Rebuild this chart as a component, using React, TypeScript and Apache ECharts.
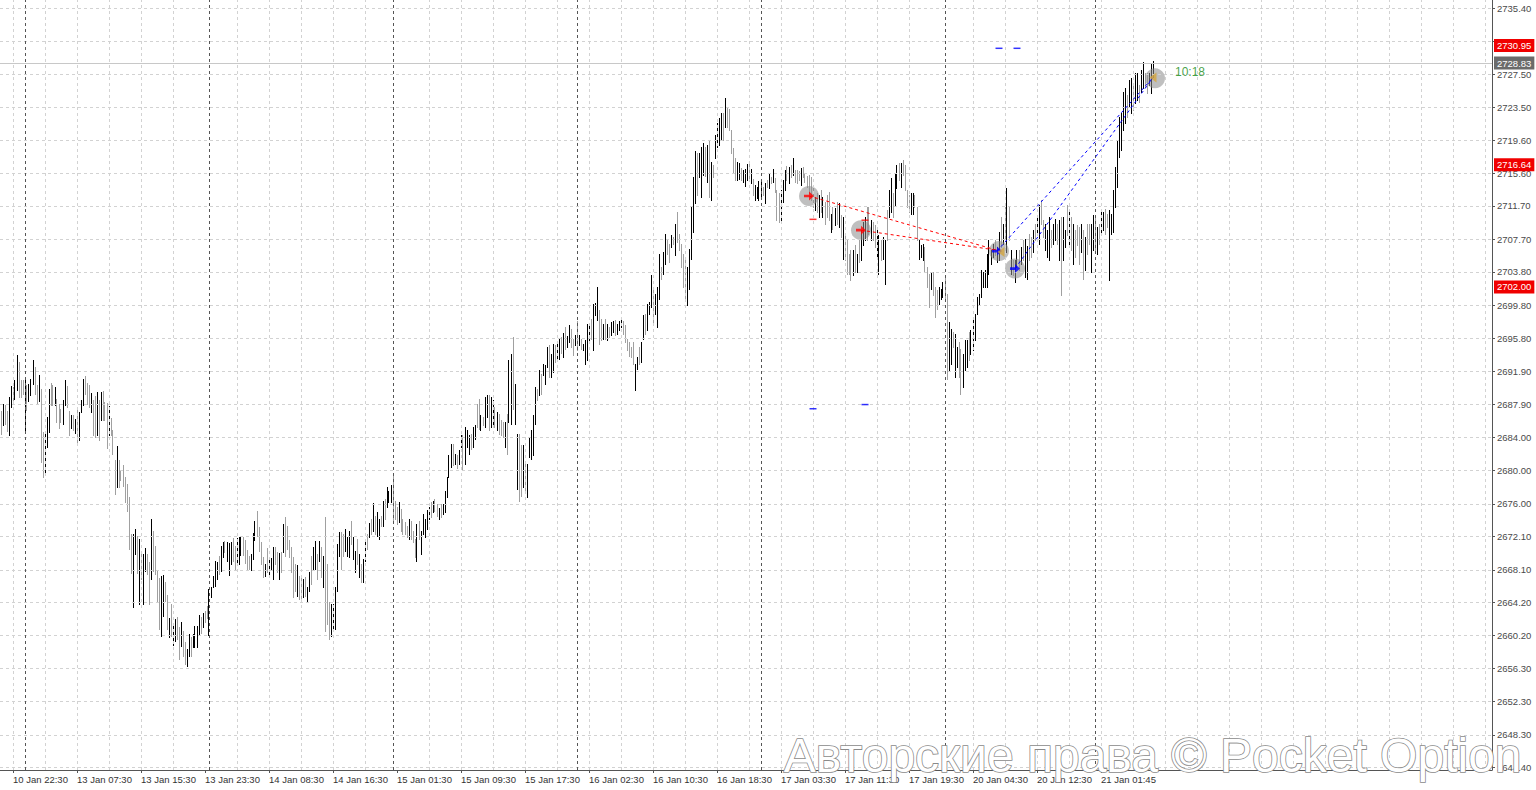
import React, { useEffect, useRef } from 'react';
import * as echarts from 'echarts';

// ---- bar data (M15 high / low, 1 = black bar, 0 = gray bar) ----
const highs: number[] = [
  2687.1,2688.0,2687.9,2687.1,2688.8,2690.1,2690.0,2690.9,2693.8,2693.0,
  2690.9,2690.9,2691.0,2690.2,2690.4,2691.0,2693.2,2692.4,2690.2,2691.5,
  2689.8,2684.6,2684.6,2686.4,2689.8,2690.5,2690.2,2690.0,2688.6,2688.0,
  2687.4,2688.4,2690.8,2690.1,2687.1,2686.6,2686.7,2686.2,2687.2,2687.0,
  2688.5,2691.0,2691.3,2690.5,2690.3,2689.3,2688.5,2688.9,2689.4,2688.4,
  2689.4,2689.5,2688.2,2688.1,2687.7,2686.3,2684.9,2681.2,2682.9,2681.2,
  2680.1,2680.6,2679.2,2678.4,2676.8,2672.4,2672.4,2673.0,2672.2,2671.8,
  2670.0,2670.0,2670.7,2670.0,2669.0,2674.2,2672.8,2671.0,2668.1,2667.1,
  2667.3,2667.5,2666.6,2665.1,2662.3,2664.0,2661.4,2662.2,2662.4,2661.2,
  2661.8,2660.8,2659.4,2658.6,2660.4,2660.0,2660.4,2661.4,2661.4,2662.7,
  2662.4,2662.9,2663.2,2663.8,2665.8,2666.0,2667.4,2669.1,2669.0,2669.8,
  2670.9,2671.4,2671.6,2671.4,2671.3,2671.4,2671.9,2671.0,2671.9,2672.0,
  2672.0,2672.0,2671.7,2670.5,2669.8,2670.0,2672.5,2674.0,2675.2,2673.2,
  2671.4,2669.6,2668.8,2670.7,2669.6,2669.5,2670.8,2670.8,2670.2,2670.1,
  2670.2,2673.6,2674.4,2673.4,2671.7,2670.8,2669.6,2668.8,2668.7,2667.4,
  2667.2,2667.0,2667.2,2666.0,2667.8,2669.8,2670.8,2671.6,2670.0,2671.6,
  2670.8,2669.8,2674.4,2668.8,2664.2,2664.0,2664.0,2666.0,2671.2,2672.6,
  2672.6,2672.4,2673.0,2672.0,2672.8,2674.0,2672.0,2670.4,2671.8,2670.0,
  2668.8,2669.4,2671.7,2672.4,2673.7,2674.2,2676.1,2674.6,2675.0,2674.2,
  2674.5,2676.4,2676.6,2678.0,2677.6,2678.2,2679.5,2676.4,2675.6,2676.2,
  2675.4,2674.2,2673.8,2673.4,2674.2,2673.9,2672.8,2671.8,2673.6,2674.0,
  2672.8,2674.8,2674.2,2675.3,2675.6,2676.2,2676.4,2676.6,2676.0,2675.5,
  2676.0,2676.0,2677.6,2679.2,2681.8,2683.2,2683.2,2682.0,2681.8,2682.4,
  2684.2,2684.2,2685.2,2684.8,2684.2,2684.4,2685.2,2685.4,2688.0,2688.6,
  2686.6,2686.4,2688.8,2689.0,2689.0,2688.8,2688.4,2687.6,2687.0,2686.8,
  2686.0,2685.8,2685.8,2686.8,2693.2,2694.0,2696.0,2690.4,2684.4,2684.4,
  2683.0,2683.0,2680.8,2680.8,2684.0,2684.8,2686.6,2690.0,2689.8,2692.0,
  2691.6,2692.8,2692.6,2694.8,2695.0,2694.0,2695.2,2695.0,2695.1,2695.8,
  2696.0,2696.5,2697.2,2696.1,2697.4,2697.0,2695.8,2696.2,2697.9,2696.2,
  2695.8,2695.2,2695.6,2697.6,2697.6,2698.1,2700.0,2700.1,2702.0,2699.2,
  2698.1,2697.6,2698.1,2697.6,2697.2,2697.8,2697.9,2698.0,2697.6,2697.9,
  2698.0,2697.9,2697.4,2695.8,2695.4,2694.8,2695.4,2692.8,2693.6,2694.8,
  2695.4,2698.6,2698.8,2700.0,2700.2,2703.4,2701.6,2701.2,2702.0,2706.0,
  2704.4,2706.2,2708.4,2707.8,2707.2,2708.2,2708.0,2709.5,2711.0,2708.4,
  2707.2,2706.0,2705.2,2704.4,2706.6,2711.6,2715.2,2718.3,2718.0,2718.0,
  2718.8,2719.2,2718.8,2719.0,2719.6,2717.0,2716.6,2720.2,2721.7,2722.3,
  2722.8,2722.9,2724.6,2723.6,2723.3,2720.8,2718.6,2717.4,2717.0,2716.8,
  2716.3,2716.0,2716.1,2716.7,2716.7,2716.1,2714.9,2714.2,2714.0,2714.7,
  2714.8,2714.0,2714.4,2714.8,2715.5,2715.2,2716.1,2715.0,2713.6,2713.2,
  2713.6,2714.8,2716.0,2716.5,2716.4,2716.6,2717.4,2716.0,2716.0,2715.9,
  2716.2,2716.4,2715.6,2715.3,2715.4,2715.2,2714.0,2712.8,2713.2,2713.0,
  2713.6,2712.8,2712.2,2713.0,2713.4,2710.8,2711.6,2711.4,2712.2,2712.0,
  2710.6,2710.4,2708.4,2707.6,2706.0,2706.4,2706.4,2707.0,2706.0,2707.8,
  2708.8,2709.8,2710.4,2711.6,2711.6,2710.0,2709.8,2709.4,2708.8,2708.2,
  2707.6,2708.0,2707.6,2711.2,2713.6,2715.0,2713.2,2715.6,2716.6,2716.8,
  2716.8,2717.2,2716.6,2713.6,2713.0,2713.2,2713.2,2713.0,2711.6,2707.6,
  2707.0,2707.2,2706.8,2704.4,2703.6,2703.8,2703.8,2702.0,2701.6,2702.0,
  2701.8,2702.6,2703.2,2701.2,2697.8,2697.0,2696.6,2696.4,2694.8,2695.4,
  2694.6,2694.0,2695.6,2695.6,2696.6,2696.8,2698.0,2698.8,2700.8,2701.2,
  2704.0,2703.8,2704.0,2706.0,2707.6,2706.4,2707.2,2707.6,2706.8,2708.6,
  2710.4,2709.6,2711.6,2713.8,2711.6,2706.4,2705.2,2705.2,2706.4,2706.4,
  2706.8,2707.6,2707.7,2706.9,2708.4,2708.0,2708.8,2709.6,2710.4,2711.8,
  2712.4,2710.0,2709.6,2708.8,2710.4,2708.8,2709.6,2710.2,2709.6,2710.0,
  2710.4,2710.4,2708.8,2711.8,2711.2,2710.4,2709.6,2708.8,2709.4,2709.2,
  2709.6,2708.8,2708.0,2709.6,2709.6,2709.6,2710.6,2710.4,2709.2,2709.6,
  2711.2,2711.0,2711.3,2710.8,2711.2,2710.8,2713.6,2716.4,2719.6,2722.4,
  2722.8,2725.4,2725.8,2725.0,2726.8,2727.0,2726.4,2727.6,2727.6,2726.2,
  2728.0,2729.0,2727.7,2727.6,2727.7,2728.8,2729.1,
];

const lows: number[] = [
  2684.4,2685.4,2685.6,2684.7,2684.2,2687.6,2688.0,2688.6,2689.6,2688.8,
  2688.8,2689.2,2684.8,2687.2,2688.3,2689.0,2690.4,2689.2,2688.0,2688.3,
  2681.0,2679.2,2679.4,2682.8,2684.6,2687.8,2687.8,2687.8,2685.8,2685.1,
  2685.8,2685.6,2687.8,2687.6,2684.2,2685.1,2684.8,2684.5,2683.1,2683.6,
  2687.0,2687.9,2689.2,2688.0,2687.6,2687.0,2684.3,2684.0,2684.3,2683.7,
  2686.0,2686.0,2686.0,2682.7,2684.2,2684.2,2682.0,2677.2,2678.0,2678.0,
  2678.8,2678.1,2676.2,2675.1,2670.6,2667.7,2663.6,2670.0,2667.7,2664.0,
  2667.0,2664.0,2668.0,2667.6,2664.0,2667.0,2668.0,2667.6,2664.2,2661.0,
  2660.2,2662.6,2664.4,2661.0,2660.0,2660.2,2659.1,2659.6,2659.8,2657.4,
  2659.0,2657.8,2656.8,2656.6,2657.8,2657.8,2658.8,2658.8,2658.8,2660.4,
  2660.5,2661.2,2661.8,2662.3,2660.3,2664.8,2666.0,2666.2,2667.0,2667.6,
  2668.0,2669.6,2670.2,2669.2,2667.5,2668.8,2669.2,2668.2,2669.0,2668.8,
  2669.9,2669.9,2668.9,2668.2,2668.2,2668.1,2669.4,2671.7,2672.2,2670.4,
  2668.8,2667.2,2667.3,2667.8,2667.2,2668.2,2667.0,2668.8,2667.8,2667.0,
  2667.8,2670.2,2669.8,2670.6,2669.6,2667.8,2664.8,2665.6,2665.0,2664.6,
  2664.6,2664.8,2665.0,2664.2,2665.6,2666.4,2668.2,2668.2,2667.0,2669.2,
  2667.2,2666.0,2660.8,2661.6,2659.8,2660.2,2660.8,2661.0,2665.6,2669.8,
  2668.2,2669.8,2670.4,2669.8,2669.6,2671.2,2669.4,2667.8,2668.8,2667.2,
  2666.6,2666.6,2669.2,2670.6,2672.0,2672.4,2672.8,2672.4,2672.2,2671.8,
  2673.4,2673.4,2674.2,2675.6,2676.2,2676.2,2674.0,2674.2,2673.6,2673.8,
  2672.8,2672.4,2672.4,2672.0,2671.8,2671.8,2671.4,2669.6,2669.2,2671.8,
  2670.0,2672.4,2672.0,2673.0,2674.2,2674.4,2675.0,2675.2,2674.6,2674.2,
  2674.4,2674.8,2675.0,2676.8,2679.2,2680.4,2680.6,2680.8,2680.3,2680.8,
  2682.8,2680.0,2680.8,2682.8,2682.0,2682.6,2682.8,2683.8,2685.2,2685.0,
  2684.8,2685.4,2685.2,2686.4,2684.8,2685.2,2685.2,2685.2,2684.8,2684.4,
  2684.2,2684.0,2682.8,2682.0,2685.8,2685.6,2687.4,2685.6,2677.8,2676.4,
  2677.0,2678.0,2677.4,2676.8,2681.6,2681.4,2681.8,2685.6,2688.4,2689.0,
  2689.2,2691.4,2690.4,2692.4,2691.2,2691.2,2691.8,2693.0,2693.1,2693.4,
  2694.1,2693.6,2694.6,2694.8,2695.4,2694.8,2693.8,2695.0,2694.4,2695.0,
  2694.6,2694.4,2692.8,2693.2,2695.6,2695.8,2694.4,2698.6,2698.0,2695.2,
  2695.6,2695.8,2695.8,2695.6,2696.0,2696.2,2696.6,2696.2,2696.4,2696.8,
  2697.2,2696.4,2695.4,2694.4,2693.7,2693.6,2692.8,2689.6,2692.2,2692.8,
  2693.0,2695.8,2696.4,2696.8,2698.8,2699.6,2697.4,2698.8,2697.2,2700.6,
  2703.0,2703.6,2704.8,2706.0,2705.0,2706.8,2707.2,2705.8,2707.4,2706.4,
  2704.4,2702.0,2700.4,2699.8,2701.8,2705.4,2708.6,2712.0,2713.0,2715.2,
  2712.8,2715.4,2715.3,2714.6,2712.8,2712.4,2715.2,2717.4,2718.8,2719.0,
  2719.6,2719.6,2721.2,2721.2,2720.8,2718.0,2715.8,2714.8,2714.8,2714.9,
  2714.8,2714.6,2714.1,2714.8,2715.0,2714.5,2713.0,2712.4,2712.6,2712.4,
  2712.8,2713.0,2712.0,2714.0,2713.8,2714.4,2714.6,2713.4,2710.0,2709.8,
  2710.0,2712.2,2713.6,2714.8,2714.5,2715.2,2715.4,2714.6,2714.5,2714.8,
  2714.2,2715.2,2714.6,2714.0,2713.2,2712.4,2711.6,2711.2,2711.0,2710.4,
  2711.0,2710.4,2709.6,2710.4,2710.0,2708.6,2709.0,2709.4,2709.6,2709.2,
  2708.0,2705.4,2705.2,2703.6,2703.6,2702.8,2703.4,2703.8,2703.8,2705.0,
  2705.2,2707.0,2707.6,2707.6,2708.4,2707.6,2707.6,2706.8,2705.6,2703.6,
  2705.2,2705.4,2702.4,2707.6,2710.4,2711.0,2710.4,2711.8,2713.8,2714.8,
  2714.0,2715.4,2713.6,2711.6,2711.0,2710.8,2710.8,2711.6,2707.6,2705.4,
  2705.6,2705.2,2703.8,2702.0,2699.6,2701.8,2701.0,2698.4,2699.4,2700.0,
  2700.6,2700.8,2700.6,2691.0,2692.0,2692.8,2694.8,2691.2,2692.4,2691.2,
  2689.2,2690.0,2692.0,2692.4,2693.2,2694.0,2694.4,2695.6,2698.8,2700.0,
  2700.8,2702.0,2702.0,2702.0,2703.6,2704.8,2705.6,2705.8,2705.0,2705.2,
  2706.8,2707.2,2707.6,2706.2,2707.6,2703.6,2703.4,2702.6,2704.4,2704.0,
  2704.8,2705.2,2703.2,2702.9,2705.2,2705.6,2706.2,2707.6,2708.6,2707.2,
  2709.6,2708.0,2706.4,2705.6,2705.2,2706.8,2707.2,2707.6,2707.2,2705.2,
  2701.0,2705.2,2706.8,2708.2,2707.2,2706.4,2704.8,2705.6,2707.0,2704.8,
  2706.2,2703.0,2704.0,2706.0,2707.2,2703.8,2706.4,2706.2,2706.0,2707.2,
  2708.4,2708.8,2708.4,2709.2,2702.8,2708.4,2708.6,2711.6,2714.0,2717.6,
  2718.4,2720.8,2721.6,2722.4,2723.6,2722.8,2723.2,2724.0,2724.4,2724.2,
  2725.4,2725.8,2726.0,2725.2,2726.2,2725.2,2727.2,
];

const ups: number[] = [
  0,1,0,0,1,1,0,1,1,0, 0,0,1,0,1,1,1,0,0,1, 0,0,1,1,1,0,0,1,0,0, 0,1,1,0,0,1,0,1,0,1,
  1,1,0,0,0,1,0,0,1,0, 1,0,0,0,1,0,0,0,1,0, 0,0,0,0,0,0,1,1,0,1, 0,1,1,0,0,1,0,0,0,0,
  1,1,0,0,1,0,1,1,0,0, 1,0,0,1,1,0,1,1,1,1, 0,1,0,0,1,1,1,1,1,0, 1,1,0,1,1,1,0,0,1,1,
  1,0,0,0,0,1,1,1,0,0, 0,0,1,0,1,1,1,0,0,1, 0,1,0,0,0,0,0,0,1,0, 0,1,0,1,1,0,1,1,0,1,
  0,1,0,0,0,1,1,1,1,1, 0,0,1,1,1,0,1,1,0,1, 0,1,1,0,1,0,1,0,1,1, 0,1,0,1,1,1,0,0,0,1,
  0,0,0,0,1,0,0,0,1,0, 1,1,1,1,1,0,1,0,0,1, 0,1,1,1,1,1,0,1,0,1, 1,0,1,1,1,0,1,1,0,0,
  1,0,1,1,0,1,1,0,1,0, 0,0,1,0,1,1,0,1,1,0, 0,1,0,1,1,1,1,1,0,1, 0,1,1,1,0,1,1,0,1,1,
  0,1,0,1,1,0,0,1,0,1, 0,1,1,1,1,0,1,1,1,0, 0,1,0,1,0,1,1,0,1,1, 1,0,0,0,0,0,0,1,1,0,
  1,1,0,1,1,1,0,1,1,1, 0,1,1,0,0,1,0,1,0,0, 0,0,0,1,1,1,1,1,0,1, 1,1,0,1,0,1,0,1,1,1,
  1,0,1,0,0,0,0,0,1,1, 0,1,1,1,0,1,0,1,1,1, 1,0,1,0,1,0,1,0,0,0, 1,1,1,0,1,0,1,0,0,0,
  1,0,0,0,0,0,0,1,0,1, 0,1,0,0,0,1,0,1,0,1, 0,1,0,0,0,0,1,0,1,0, 1,1,1,0,0,1,0,0,1,1,
  0,1,1,0,1,1,0,1,1,0, 1,0,0,0,0,1,1,0,0,1, 1,1,0,0,0,1,0,0,0,1, 1,1,0,0,1,1,0,1,1,0,
  0,1,1,1,0,1,1,1,1,1, 1,1,1,1,1,1,1,0,1,1, 0,1,0,1,0,1,0,1,1,0, 1,0,1,1,0,0,1,0,1,1,
  0,0,1,1,1,0,1,1,0,1, 0,1,1,0,1,0,1,0,0,0, 1,0,1,0,0,1,1,0,1,0, 1,1,0,0,1,1,1,1,1,1,
  1,1,1,0,1,1,0,1,1,0, 1,1,0,0,1,1,1,
];

// ---- axis texts ----
const timeLabels: string[] = [
  '10 Jan 22:30', '13 Jan 07:30', '13 Jan 15:30', '13 Jan 23:30', '14 Jan 08:30', '14 Jan 16:30',
  '15 Jan 01:30', '15 Jan 09:30', '15 Jan 17:30', '16 Jan 02:30', '16 Jan 10:30', '16 Jan 18:30',
  '17 Jan 03:30', '17 Jan 11:30', '17 Jan 19:30', '20 Jan 04:30', '20 Jan 12:30', '21 Jan 01:45',
];
const firstLabelBar = 6;
const barsPerLabel = 32;
const barsPerGrid = 16;
const daySeparators: number[] = [12, 104, 196, 288, 380, 472, 547];
const totalSlots = 746;

const yTickValues: number[] = [
  2735.40, 2731.45, 2727.50, 2723.50, 2719.60, 2715.60, 2711.70, 2707.70, 2703.80, 2699.80, 2695.80,
  2691.90, 2687.90, 2684.00, 2680.00, 2676.00, 2672.10, 2668.10, 2664.20, 2660.20, 2656.30, 2652.30,
  2648.30, 2644.40,
];
const yLabelValues: number[] = yTickValues.filter((v) => v !== 2731.45);

// ---- levels & trades ----
const redLevels: number[] = [2730.95, 2716.64, 2702.0];
const bidPrice = 2728.83;

const sellOpens: number[][] = [[404, 2712.9], [430, 2708.8]];
const sellClose: number[] = [498, 2706.4];
const buyOpens: number[][] = [[498, 2706.3], [507, 2704.2]];
const buyClose: number[] = [576, 2727.1];
const closeMarks: number[][] = [[500, 2706.2], [576, 2727.1]];
const halos: number[][] = [[404, 2712.9], [430, 2708.8], [499, 2706.3], [507, 2704.2], [577, 2727.0]];
const redStops: number[][] = [[406, 2710.1], [432, 2710.0]];
const blueTargets: number[][] = [[406, 2687.4], [432, 2687.9], [499, 2730.6], [508, 2730.6]];
const timerText = '10:18';
const timerPos: number[] = [587, 2727.8];

const FONT = '"Liberation Sans", Arial, sans-serif';

function buildOption() {
  const n = Math.min(highs.length, lows.length, ups.length);
  const bars: number[][] = [];
  for (let i = 0; i < n; i++) bars.push([i, highs[i], lows[i], ups[i]]);
  const cats = Array.from({ length: totalSlots }, (_, i) => String(i));

  const isLabelIdx = (idx: number) =>
    idx >= firstLabelBar &&
    (idx - firstLabelBar) % barsPerLabel === 0 &&
    (idx - firstLabelBar) / barsPerLabel < timeLabels.length;

  const gridLines: any[] = [];
  yTickValues.forEach((v) =>
    gridLines.push({ yAxis: v, lineStyle: { color: '#d2d2d2', type: [3, 3], width: 1 } })
  );
  for (let i = firstLabelBar; i < totalSlots; i += barsPerGrid) {
    if (daySeparators.some((d) => Math.abs(d - i) < 3)) continue;
    gridLines.push({ xAxis: i, lineStyle: { color: '#d2d2d2', type: [3, 3], width: 1 } });
  }
  daySeparators.forEach((d) =>
    gridLines.push({ xAxis: d, lineStyle: { color: '#555555', type: [3, 3], width: 1 } })
  );

  const levelLines: any[] = redLevels.map((v) => ({
    yAxis: v,
    lineStyle: { color: '#d40000', width: 1, type: 'solid', shadowBlur: 2, shadowColor: 'rgba(255,80,80,0.6)' },
    label: {
      show: true, position: 'end', distance: 2, formatter: v.toFixed(2), color: '#ffffff',
      backgroundColor: '#f00000', padding: [2, 3, 1, 3], fontSize: 9.5, fontFamily: FONT,
    },
  }));
  levelLines.push({
    yAxis: bidPrice,
    lineStyle: { color: '#c8c8c8', width: 1, type: 'solid' },
    label: {
      show: true, position: 'end', distance: 2, formatter: bidPrice.toFixed(2), color: '#ffffff',
      backgroundColor: '#6b6b6b', padding: [2, 3, 1, 3], fontSize: 9.5, fontFamily: FONT,
    },
  });

  const arrowPath = 'path://M0,3.5 L5,3.5 L5,0 L10,5 L5,10 L5,6.5 L0,6.5 Z';
  const closePath = 'path://M10,0 L0,5 L10,10 Z';

  const tradeLine = (from: number[], to: number[], color: string) => ({
    type: 'line', data: [from, to], symbol: 'none', silent: true, z: 5,
    lineStyle: { color, width: 1, type: [3, 3] },
  });

  return {
    animation: false,
    backgroundColor: '#ffffff',
    grid: { left: 0, right: 44, top: 0, bottom: 20, containLabel: false },
    xAxis: {
      type: 'category',
      data: cats,
      boundaryGap: true,
      axisLine: { show: true, lineStyle: { color: '#555555', width: 1 } },
      axisTick: {
        show: true, alignWithLabel: true, length: 3,
        interval: (idx: number) => isLabelIdx(idx),
        lineStyle: { color: '#555555' },
      },
      axisLabel: {
        show: true,
        interval: (idx: number) => isLabelIdx(idx),
        formatter: (_v: string, idx: number) => timeLabels[(idx - firstLabelBar) / barsPerLabel] ?? '',
        align: 'left', color: '#333333', fontSize: 9.5, fontFamily: FONT, margin: 4,
      },
      splitLine: { show: false },
    },
    yAxis: {
      type: 'value',
      position: 'right',
      min: 2644.10,
      max: 2736.39,
      axisLine: { show: true, lineStyle: { color: '#555555', width: 1 } },
      axisTick: { show: true, inside: false, length: 3, customValues: yTickValues, lineStyle: { color: '#555555' } },
      axisLabel: {
        show: true, customValues: yLabelValues, formatter: (v: number) => v.toFixed(2),
        color: '#4a4a4a', fontSize: 9.5, fontFamily: FONT, margin: 5,
      },
      splitLine: { show: false },
    },
    series: [
      {
        type: 'line', data: [], silent: true, z: 1,
        markLine: { silent: true, symbol: ['none', 'none'], label: { show: false }, data: gridLines, animation: false },
      },
      {
        type: 'custom',
        z: 2,
        silent: true,
        data: bars,
        encode: { x: 0, y: [1, 2] },
        renderItem: (_params: any, api: any) => {
          const i = api.value(0);
          const top = api.coord([i, api.value(1)]);
          const bot = api.coord([i, api.value(2)]);
          const x = Math.round(top[0] - 0.5);
          const y1 = Math.round(top[1]);
          const y2 = Math.round(bot[1]);
          return {
            type: 'rect',
            shape: { x, y: y1, width: 1, height: Math.max(1, y2 - y1 + 1) },
            style: { fill: api.value(3) ? '#000000' : '#a0a0a0' },
          };
        },
      },
      {
        type: 'line', data: [], silent: true, z: 3,
        markLine: { silent: true, symbol: ['none', 'none'], data: levelLines, animation: false },
      },
      {
        type: 'scatter', data: halos, symbol: 'circle', symbolSize: 20, silent: true, z: 4,
        itemStyle: { color: 'rgba(140,140,140,0.7)' },
      },
      ...sellOpens.map((p) => tradeLine(p, sellClose, '#ff0000')),
      ...buyOpens.map((p) => tradeLine(p, buyClose, '#0000ff')),
      {
        type: 'scatter', data: sellOpens, symbol: arrowPath, symbolSize: [10, 9], silent: true, z: 6,
        itemStyle: { color: '#ff0000' },
      },
      {
        type: 'scatter', data: buyOpens, symbol: arrowPath, symbolSize: [10, 9], silent: true, z: 6,
        itemStyle: { color: '#0000ff' },
      },
      {
        type: 'scatter', data: closeMarks, symbol: closePath, symbolSize: [7, 10], silent: true, z: 6,
        itemStyle: { color: '#d4a640' },
      },
      {
        type: 'scatter', data: redStops, symbol: 'rect', symbolSize: [7, 1.5], silent: true, z: 6,
        itemStyle: { color: '#ff0000' },
      },
      {
        type: 'scatter', data: blueTargets, symbol: 'rect', symbolSize: [7, 1.5], silent: true, z: 6,
        itemStyle: { color: '#0000ff' },
      },
      {
        type: 'scatter', data: [timerPos], symbolSize: 0, silent: true, z: 6,
        label: {
          show: true, position: 'right', distance: 0, formatter: timerText,
          color: '#138a13', fontSize: 12, fontFamily: FONT,
        },
      },
    ],
    graphic: [
      {
        type: 'text',
        left: 783,
        top: 731,
        z: 100,
        silent: true,
        style: {
          text: 'Авторские права © Pocket Option',
          font: 'normal 48px "Liberation Sans", Arial, sans-serif',
          fill: '#ffffff',
          stroke: '#8a8a8a',
          lineWidth: 1.6,
        },
      },
    ],
  };
}

export default function App() {
  const ref = useRef<HTMLDivElement>(null);
  useEffect(() => {
    if (!ref.current) return;
    const chart = echarts.init(ref.current, null, { renderer: 'svg' });
    chart.setOption(buildOption() as any);
    return () => chart.dispose();
  }, []);
  return (
    <div
      ref={ref}
      style={{ position: 'fixed', left: 0, top: 0, width: 1536, height: 790, background: '#ffffff' }}
    />
  );
}
